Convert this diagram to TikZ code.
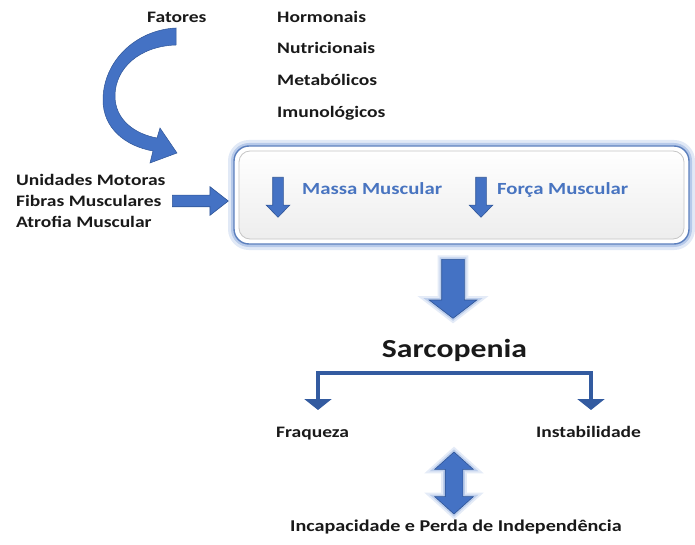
\documentclass[tikz,border=0pt]{standalone}
\usepackage{fontspec}
\setmainfont{Carlito}[FakeStretch=1.22]
\usepackage{tikz}
\usetikzlibrary{shapes.arrows,arrows.meta}
\definecolor{arrowblue}{RGB}{68,114,196}
\definecolor{arrowedge}{RGB}{47,85,151}
\definecolor{glowblue}{RGB}{120,155,215}
\definecolor{textblue}{RGB}{72,116,192}
\definecolor{inkgray}{RGB}{25,25,25}

\begin{document}
\begin{tikzpicture}[x=1pt,y=-1pt,
  txt/.style={anchor=base west,inner sep=0pt,font=\fontsize{16}{19}\selectfont\bfseries,text=inkgray},
  bluetxt/.style={txt,font=\fontsize{17}{20}\selectfont\bfseries,text=textblue},
  halo/.style={preaction={draw=glowblue,line width=8pt,opacity=.2},preaction={draw=glowblue,line width=4pt,opacity=.35}},
  blockarrow/.style={single arrow,fill=arrowblue,draw=arrowedge,line width=.6pt},
  panel/.style={draw=glowblue!60!arrowedge,line width=1.4pt,fill=white,rounded corners=15pt,
    preaction={draw=glowblue,line width=12pt,opacity=.22},preaction={draw=glowblue,line width=6pt,opacity=.4}},
  panelin/.style={draw=gray!45,line width=.8pt,rounded corners=11pt,top color=white,bottom color=gray!14},
  forkline/.style={draw=arrowedge!80!arrowblue,line width=4pt,-{Triangle[width=27pt,length=11pt]}}]
\useasboundingbox (0,0) rectangle (695,545);

% causes
\node[txt] (fatores) at (147,23) {Fatores};
\node[txt] (hormonais) at (277,23) {Hormonais};
\node[txt] (nutri) at (277,54) {Nutricionais};
\node[txt] (metab) at (277,86) {Metabólicos};
\node[txt] (imuno) at (277,118) {Imunológicos};

\fill[arrowblue,draw=arrowedge,line width=.5pt]
  (176,28) .. controls (135,30) and (103,62) .. (103,100)
  .. controls (103,128) and (125,146) .. (153,151)
  -- (150,163) -- (177,153) -- (160,128) -- (157,138)
  .. controls (135,134) and (115,120) .. (115,96)
  .. controls (115,68) and (140,46) .. (176,45) -- cycle;

\node[txt] (unid) at (16,186) {Unidades Motoras};
\node[txt] (fibras) at (16,207) {Fibras Musculares};
\node[txt] (atrofia) at (16,228) {Atrofia Muscular};
\node[blockarrow,inner sep=5.5pt,minimum height=56pt,minimum width=28pt,single arrow head extend=8.5pt,
  single arrow tip angle=76,anchor=tail] (inarrow) at (172,201) {};

% panel
\node[panel,minimum width=455pt,minimum height=98pt] (panel) at (461.5,195) {};
\node[panelin,minimum width=445pt,minimum height=88pt] (inner) at (panel.center) {};
\begin{scope}[every node/.style={blockarrow,shape border rotate=270,inner sep=5pt,minimum height=40pt,
  minimum width=23pt,single arrow head extend=6.5pt,single arrow tip angle=88,anchor=tail}]
\node (massadown) at (278,177) {};
\node (forcadown) at (481,177) {};
\end{scope}
\node[bluetxt] (massa) at (302,195) {Massa Muscular};
\node[bluetxt] (forca) at (497,195) {Força Muscular};

% result
\node[blockarrow,halo,shape border rotate=270,inner sep=11pt,minimum height=59pt,minimum width=47pt,
  single arrow head extend=12.5pt,single arrow tip angle=105,anchor=tail] (bigdown) at (453,259) {};
\node[txt,anchor=base,font=\fontsize{26}{30}\selectfont\bfseries] (sarc) at (454.5,357) {Sarcopenia};

\coordinate (fork) at (454.5,373);
\coordinate (fqtip) at (318,410);
\coordinate (intip) at (591,410);
\draw[forkline] (fork) -| (fqtip);
\draw[forkline] (fork) -| (intip);

\node[txt] (fraq) at (276,437) {Fraqueza};
\node[txt] (instab) at (536,437) {Instabilidade};

\node[double arrow,fill=arrowblue,draw=arrowedge,line width=.6pt,inner sep=8.5pt,halo,
  shape border rotate=90,minimum height=62pt,minimum width=38pt,
  double arrow head extend=10.5pt,double arrow tip angle=96] (both) at (454,483) {};
\node[txt,font=\fontsize{16.5}{19}\selectfont\bfseries] (incap) at (290,531) {Incapacidade e Perda de Independência};
\end{tikzpicture}
\end{document}
